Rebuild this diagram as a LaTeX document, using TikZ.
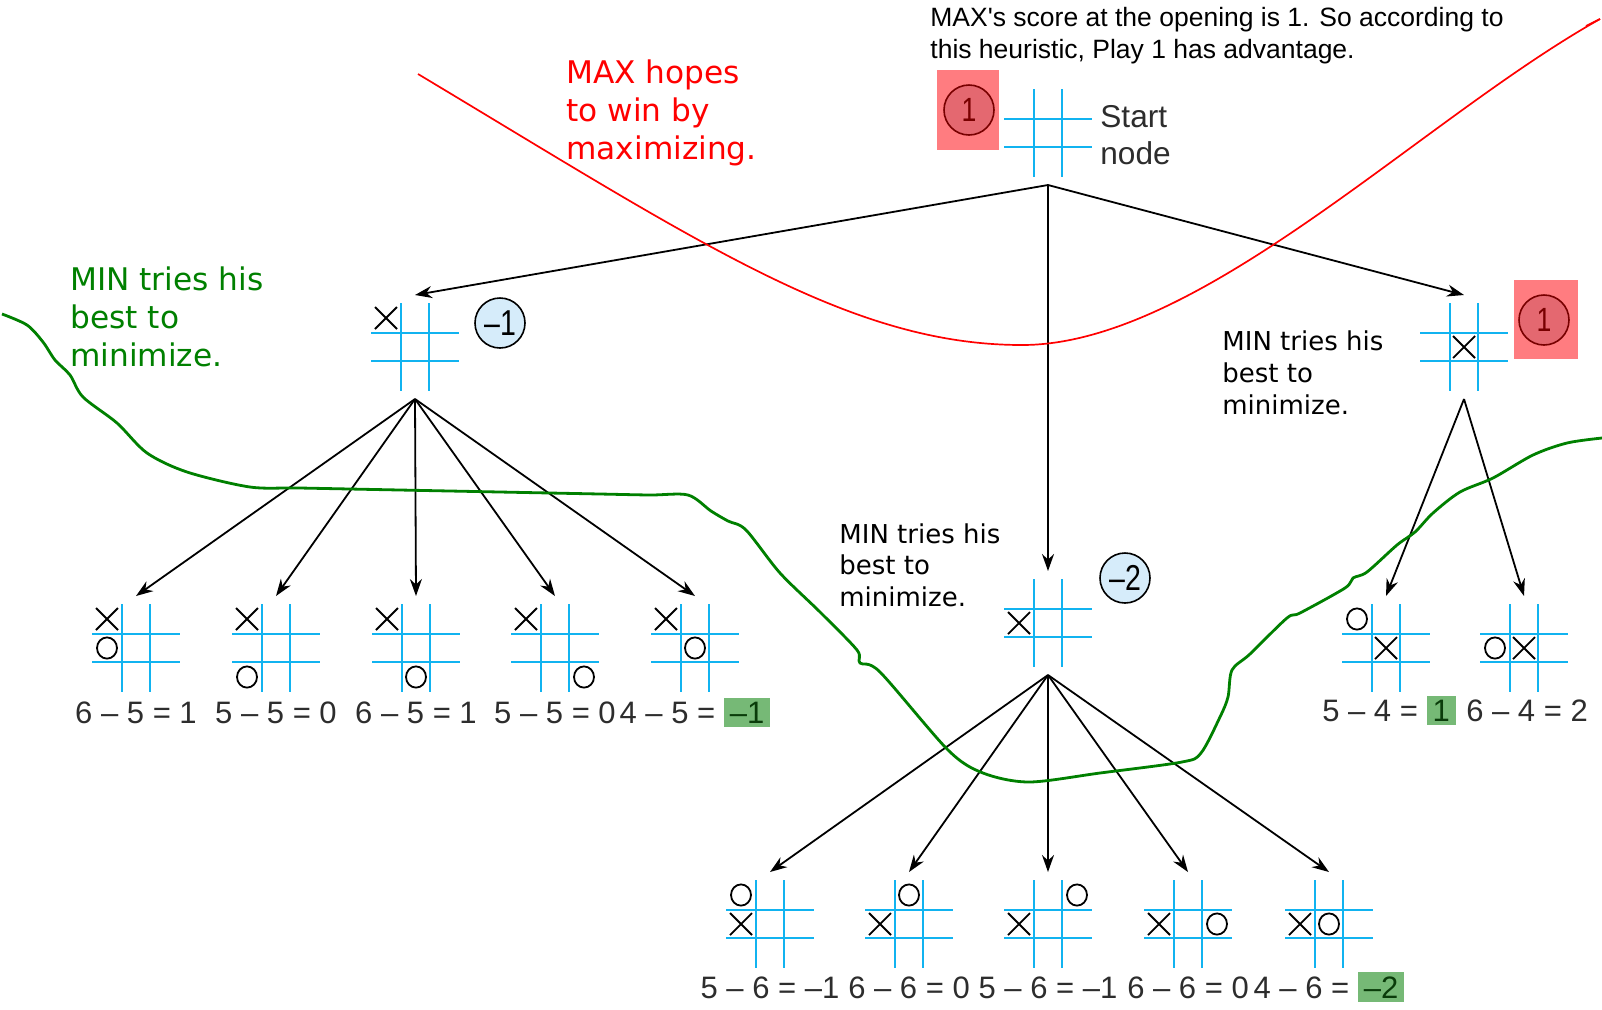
\documentclass[tikz,border=0pt]{standalone}
\usepackage{fontspec}
\usepackage{graphicx}
\usetikzlibrary{arrows.meta}
\newfontfamily\arialf{Liberation Sans}
\newfontfamily\verdf{DejaVu Sans}
\definecolor{gridblue}{RGB}{17,179,240}
\definecolor{redsq}{RGB}{255,124,128}
\definecolor{redcirc}{RGB}{228,104,112}
\definecolor{darkred}{RGB}{120,0,0}
\definecolor{bluecirc}{RGB}{214,236,250}
\definecolor{hlgreen}{RGB}{118,185,118}
\definecolor{hltext}{RGB}{10,60,10}
\definecolor{ggreen}{RGB}{0,128,0}
\definecolor{labelgray}{RGB}{45,45,45}
\newcommand\hlbox[1]{{\fboxsep=2pt\colorbox{hlgreen}{\hspace{1pt}\textcolor{hltext}{#1}\hspace{1pt}}}}
\newcommand\tall[1]{\scalebox{0.95}[1.2]{#1}}
\newcommand\xm[2]{\begin{scope}[shift={(#1,#2)}]\draw[mk] (-11,-11) -- (11,11) (-11,11) -- (11,-11);\end{scope}}
\newcommand\om[2]{\draw[mk] (#1,#2) ellipse [x radius=5pt, y radius=5.3pt];}
\newcommand\tttboard[4]{%
  \node[board] (#1) at (#2,#3) {};
  \begin{scope}[shift={(#2,#3)}]
    \draw[gridline] (-14,-44) -- (-14,44) (14,-44) -- (14,44) (-44,-14) -- (44,-14) (-44,14) -- (44,14);
    #4
  \end{scope}}
\begin{document}
\begin{tikzpicture}[x=0.5pt,y=-0.5pt,
  board/.style={minimum size=44pt, inner sep=0pt, outer sep=4pt},
  gridline/.style={draw=gridblue, line width=1.1pt},
  mk/.style={line width=0.9pt, black},
  arr/.style={-{Stealth[length=8.5pt,width=6pt]}, line width=0.9pt},
  eq/.style={anchor=base, inner sep=0pt, text=labelgray, font=\arialf\fontsize{15.5pt}{18pt}\selectfont},
  note/.style={anchor=north west, align=left, inner sep=0pt},
  bluescore/.style={circle, draw=black, line width=0.8pt, fill=bluecirc, minimum size=25pt, inner sep=0pt, font=\arialf\fontsize{15pt}{18pt}\selectfont},
  redscore/.style={circle, draw=darkred, line width=0.8pt, fill=redcirc, minimum size=25pt, inner sep=0pt, text=darkred, font=\arialf\fontsize{14pt}{16pt}\selectfont},
  redsquare/.style={fill=redsq, inner sep=0pt}
]
\useasboundingbox (0,0) rectangle (1602,1009);
\fill[white] (0,0) rectangle (1602,1009);

% texts
\node[note, font=\arialf\fontsize{13.25pt}{16pt}\selectfont] (topnote) at (930,7)
  {MAX\textquotesingle s score at the opening is 1. So according to\\this heuristic, Play 1 has advantage.};
\node[note, text=red, font=\verdf\fontsize{15.6pt}{19pt}\selectfont] (maxnote) at (566,59)
  {MAX hopes\\to win by\\maximizing.};
\node[note, text=ggreen, font=\verdf\fontsize{15.6pt}{19.2pt}\selectfont] (minnoteL) at (70,266)
  {MIN tries his\\best to\\minimize.};
\node[note, font=\verdf\fontsize{13pt}{15.9pt}\selectfont] (minnoteM) at (839,523)
  {MIN tries his\\best to\\minimize.};
\node[note, font=\verdf\fontsize{13pt}{16.2pt}\selectfont] (minnoteR) at (1222,330)
  {MIN tries his\\best to\\minimize.};
\node[note, text=labelgray, font=\arialf\fontsize{15.8pt}{18.5pt}\selectfont] (startlbl) at (1100,105)
  {Start\\node};

% boards
\tttboard{S}{1048}{133}{}
\tttboard{L1}{415}{347}{\xm{-29}{-29}}
\tttboard{M1}{1048}{623}{\xm{-29}{0}}
\tttboard{R1}{1464}{347}{\xm{0}{0}}

\tttboard{L2a}{136}{648}{\xm{-29}{-29}\om{-29}{0}}
\tttboard{L2b}{276}{648}{\xm{-29}{-29}\om{-29}{29}}
\tttboard{L2c}{416}{648}{\xm{-29}{-29}\om{0}{29}}
\tttboard{L2d}{555}{648}{\xm{-29}{-29}\om{29}{29}}
\tttboard{L2e}{695}{648}{\xm{-29}{-29}\om{0}{0}}

\tttboard{M2a}{770}{924}{\om{-29}{-29}\xm{-29}{0}}
\tttboard{M2b}{909}{924}{\om{0}{-29}\xm{-29}{0}}
\tttboard{M2c}{1048}{924}{\om{29}{-29}\xm{-29}{0}}
\tttboard{M2d}{1188}{924}{\xm{-29}{0}\om{29}{0}}
\tttboard{M2e}{1329}{924}{\xm{-29}{0}\om{0}{0}}

\tttboard{R2a}{1386}{648}{\om{-29}{-29}\xm{0}{0}}
\tttboard{R2b}{1524}{648}{\om{-29}{0}\xm{0}{0}}

% score circles
\node[redsquare, minimum width=31pt, minimum height=40pt] (sqT) at (968,110) {};
\node[redscore] (cT) at (969,110) {\tall{1}};
\node[redsquare, minimum width=32pt, minimum height=39.5pt] (sqR) at (1546,319.5) {};
\node[redscore] (cR) at (1544,320) {\tall{1}};
\node[bluescore] (cL) at (500,323) {\tall{–1}};
\node[bluescore] (cM) at (1125,578) {\tall{–2}};

% labels
\node[eq] (eL2a) at (136,723) {6 – 5 = 1};
\node[eq] (eL2b) at (276,723) {5 – 5 = 0};
\node[eq] (eL2c) at (416,723) {6 – 5 = 1};
\node[eq] (eL2d) at (555,723) {5 – 5 = 0};
\node[eq] (eL2e) at (695,723) {4 – 5 = \hlbox{–1}};
\node[eq] (eM2a) at (770,998) {5 – 6 = –1};
\node[eq] (eM2b) at (909,998) {6 – 6 = 0};
\node[eq] (eM2c) at (1048,998) {5 – 6 = –1};
\node[eq] (eM2d) at (1188,998) {6 – 6 = 0};
\node[eq] (eM2e) at (1329,998) {4 – 6 = \hlbox{–2}};
\node[eq] (eR2a) at (1389,721) {5 – 4 = \hlbox{1}};
\node[eq] (eR2b) at (1527,721) {6 – 4 = 2};

% arrows
\draw[arr] (S.south) -- (L1.north);
\draw[arr] (S.south) -- (M1.north);
\draw[arr] (S.south) -- (R1.north);
\foreach \c in {L2a,L2b,L2c,L2d,L2e} \draw[arr] (L1.south) -- (\c.north);
\foreach \c in {M2a,M2b,M2c,M2d,M2e} \draw[arr] (M1.south) -- (\c.north);
\foreach \c in {R2a,R2b} \draw[arr] (R1.south) -- (\c.north);

% annotation curves
\coordinate (rA) at (418,74);
\coordinate (rB) at (1022,345);
\coordinate (rC) at (1600,19);
\draw[red, line width=0.85pt] (rA) .. controls (700,243) and (850,345) .. (rB)
  .. controls (1200,345) and (1420,120) .. (rC);
\coordinate (rH) at (1586,26);
\draw[red, line width=0.85pt] (rC) -- (rH);
\draw[ggreen, line width=1.4pt] plot[smooth, tension=0.5] coordinates {(2,314) (27,325) (43,342) (55,360) (70,375) (83,397) (117,423) (147,453) (187,472) (250,487) (300,488) (400,490) (500,492) (600,494) (650,495) (688,495) (711,511) (728,521) (746,530) (780,573) (820,612) (857,650) (860,663) (880,672) (948,750) (983,773) (1029,782) (1100,773) (1182,762) (1201,753) (1220,717) (1228,697) (1232,670) (1250,654) (1287,618) (1300,613) (1345,588) (1353,578) (1367,572) (1397,545) (1415,532) (1433,513) (1460,492) (1493,478) (1533,455) (1567,443) (1602,438)};
\end{tikzpicture}
\end{document}
